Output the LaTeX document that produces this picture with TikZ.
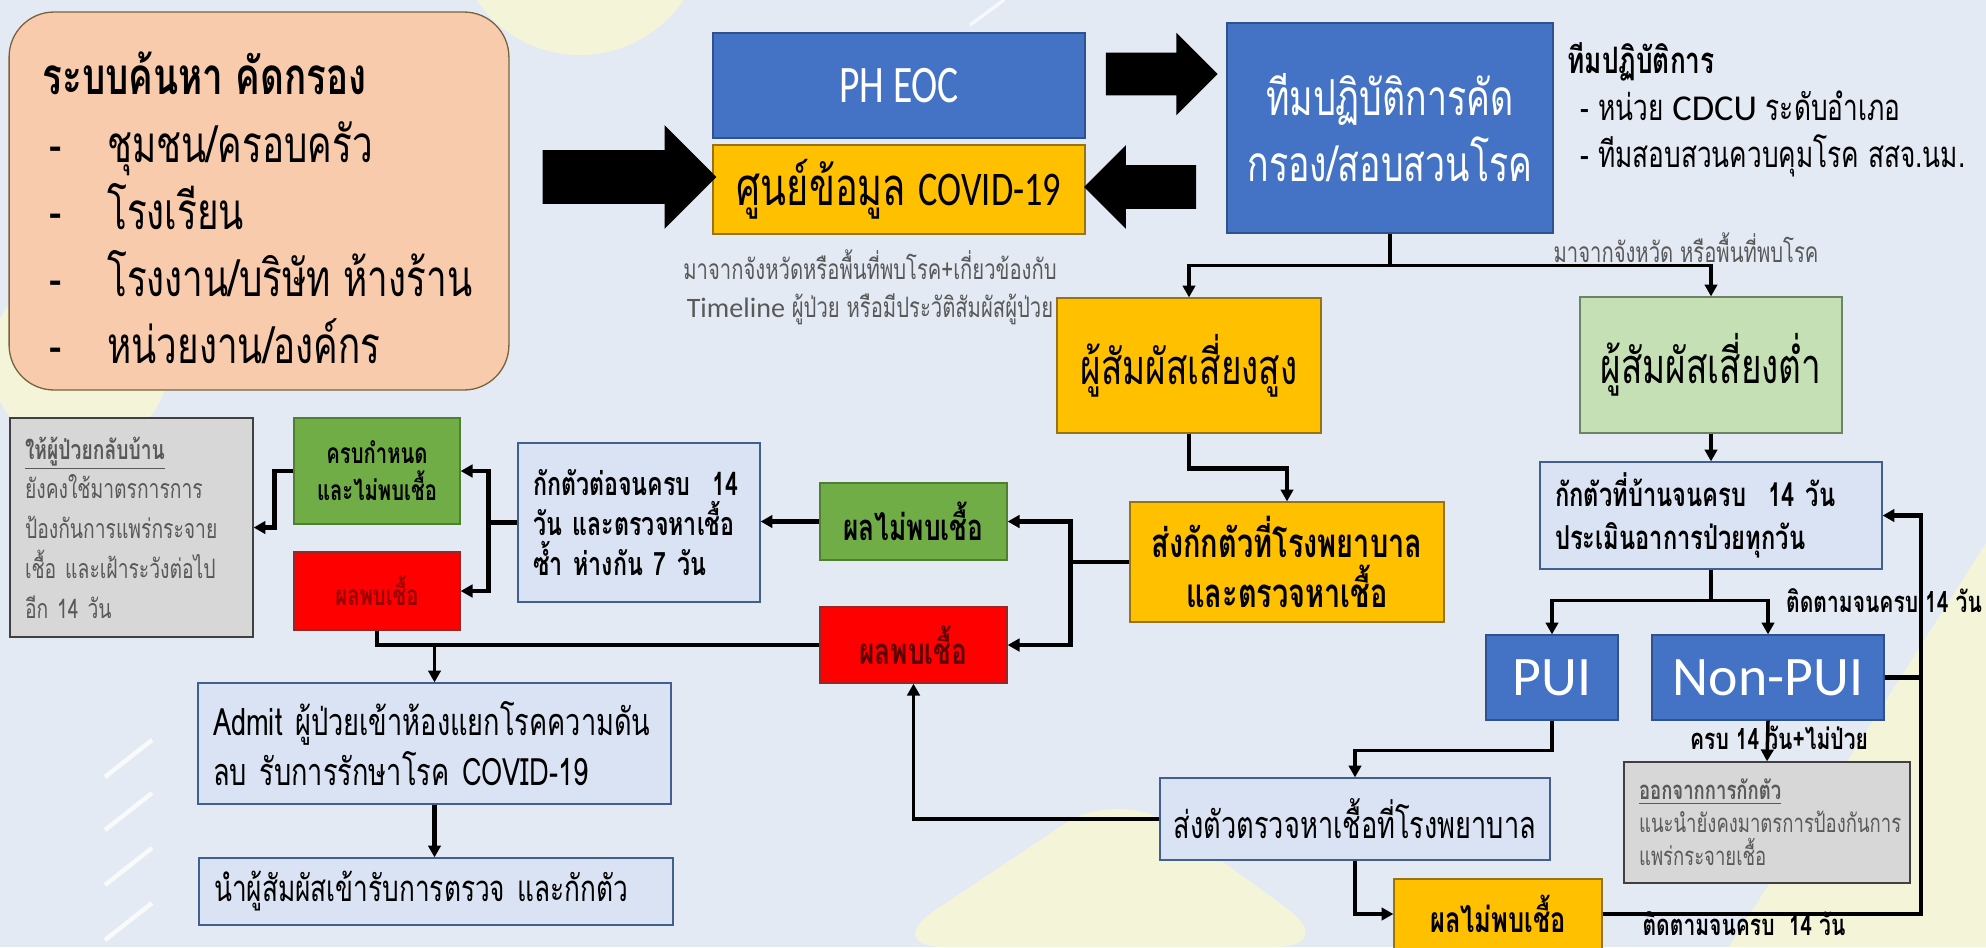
\documentclass[tikz,border=0pt]{standalone}
\usepackage{fontspec}
\setmainfont{Loma}[Script=Thai,FakeStretch=0.72]
\newfontfamily\latn{Carlito}
\newfontfamily\latnc{Carlito}[FakeStretch=0.75]
\usepackage{tikz}
\usetikzlibrary{arrows.meta,positioning,shapes.arrows,calc}
\definecolor{CVbg}{RGB}{228,234,244}
\definecolor{CVbgY}{RGB}{243,244,216}
\definecolor{CVpeach}{RGB}{248,203,173}
\definecolor{CVpeachD}{RGB}{120,100,60}
\definecolor{CVblue}{RGB}{68,114,196}
\definecolor{CVblueD}{RGB}{47,82,143}
\definecolor{CVgold}{RGB}{255,192,0}
\definecolor{CVgoldD}{RGB}{150,115,20}
\definecolor{CVgreen}{RGB}{112,173,71}
\definecolor{CVgreenD}{RGB}{80,126,50}
\definecolor{CVlgreen}{RGB}{197,224,180}
\definecolor{CVlgreenD}{RGB}{110,130,100}
\definecolor{CVred}{RGB}{255,0,0}
\definecolor{CVredD}{RGB}{150,40,40}
\definecolor{CVredT}{RGB}{90,0,0}
\definecolor{CVredT2}{RGB}{150,0,0}
\definecolor{CVpale}{RGB}{218,227,243}
\definecolor{CVpaleD}{RGB}{65,95,145}
\definecolor{CVgray}{RGB}{215,215,215}
\definecolor{CVtext}{RGB}{89,89,89}
\newcommand{\setfs}[2]{\fontsize{#1}{#2}\selectfont}
\tikzset{
  box/.style={draw,line width=0.6pt,inner sep=0pt,align=center},
  bluebox/.style={fill=CVblue,draw=CVblueD,text=white},
  goldbox/.style={fill=CVgold,draw=CVgoldD,text=black},
  greenbox/.style={fill=CVgreen,draw=CVgreenD,text=black},
  redbox/.style={fill=CVred,draw=CVredD},
  palebox/.style={fill=CVpale,draw=CVpaleD,text=black},
  graybox/.style={fill=CVgray,draw=black!75},
  link/.style={line width=1.6pt,-{Triangle[length=1.9mm,width=2mm]}},
  linkb/.style={line width=2.2pt,-{Triangle[length=1.9mm,width=2mm]}},
  wire/.style={line width=1.6pt},
  wireb/.style={line width=2.2pt},
  blk/.style={single arrow,fill=black,inner xsep=0pt,single arrow tip angle=90},
  capnote/.style={text=CVtext,align=center,inner sep=0pt,font=\setfs{12.8}{17.2}},
  lbl/.style={inner sep=0pt,font=\bfseries\setfs{13.3}{15}}
}
\begin{document}
\begin{tikzpicture}[x=0.016cm,y=-0.016cm]
  \fill[CVbg] (0,0) rectangle (1986,947);
  \useasboundingbox (0,0) rectangle (1986,947);
  \fill[CVbgY] (580,-70) circle (125);
  \fill[CVbgY] (80,360) circle (90);
  \fill[CVbgY,rounded corners=30pt] (880,947) -- (1120,787) -- (1340,947) -- cycle;
  \fill[CVbgY] (1986,543) -- (1986,947) -- (1729,947) -- cycle;
  \foreach \yy in {740,793,848,903}
    \draw[white,opacity=0.8,line width=2pt] (105,\yy+37) -- (152,\yy);
  \draw[white,opacity=0.7,line width=1.5pt] (970,25) -- (1004,0);

  \node[box,fill=CVpeach,draw=CVpeachD,rounded corners=0.72cm,minimum width=8cm,minimum height=6.05cm] (srch) at (259,201) {};
  \node[anchor=west,align=left,inner sep=0pt,font=\setfs{23.3}{30.6}] (srchT) at (42,208) {\textbf{ระบบค้นหา คัดกรอง}\\\hspace*{0.11cm}\makebox[0.93cm][l]{-}ชุมชน/ครอบครัว\\\hspace*{0.11cm}\makebox[0.93cm][l]{-}โรงเรียน\\\hspace*{0.11cm}\makebox[0.93cm][l]{-}โรงงาน/บริษัท ห้างร้าน\\\hspace*{0.11cm}\makebox[0.93cm][l]{-}หน่วยงาน/องค์กร};

  \node[box,bluebox,minimum width=5.952cm,minimum height=1.68cm,font=\latnc\setfs{24}{28}] (eoc) at (899,85.5) {PH EOC};
  \node[box,goldbox,minimum width=5.952cm,minimum height=1.424cm,font=\setfs{24}{28}] (info) at (899,189.5) {ศูนย์ข้อมูล {\latnc\setfs{22}{28}COVID-19}};
  \node[box,bluebox,minimum width=5.216cm,minimum height=3.36cm,font=\setfs{22.6}{30}] (team) at (1390,128) {ทีมปฏิบัติการคัด\\กรอง/สอบสวนโรค};
  \node[blk,inner ysep=0.424cm,minimum height=2.784cm,minimum width=1.648cm,single arrow head extend=0.4cm] (arrSrch) at (616,177) {};
  \node[blk,inner ysep=0.336cm,minimum height=1.792cm,minimum width=1.312cm,single arrow head extend=0.32cm] (arrTeam) at (1151,74) {};
  \node[blk,inner ysep=0.344cm,minimum height=1.792cm,minimum width=1.328cm,single arrow head extend=0.32cm,shape border rotate=180] (arrInfo) at (1151,187) {};
  \node[anchor=west,align=left,inner sep=0pt,font=\setfs{16.6}{21.3}] (teamNote) at (1567,110) {\textbf{ทีมปฏิบัติการ}\\\hspace*{0.21cm}- หน่วย {\latn CDCU} ระดับอำเภอ\\\hspace*{0.21cm}- ทีมสอบสวนควบคุมโรค สสจ.นม.};
  \node[capnote] (infoCap) at (870,287) {มาจากจังหวัดหรือพื้นที่พบโรค+เกี่ยวข้องกับ\\{\latn Timeline} ผู้ป่วย หรือมีประวัติสัมผัสผู้ป่วย};

  \node[box,goldbox,minimum width=4.224cm,minimum height=2.16cm,font=\setfs{22.2}{26}] (hi) at (1189,365.5) {ผู้สัมผัสเสี่ยงสูง};
  \node[box,fill=CVlgreen,draw=CVlgreenD,minimum width=4.192cm,minimum height=2.176cm,font=\setfs{22.2}{26}] (lo) at (1711,365) {ผู้สัมผัสเสี่ยงต่ำ};
  \node[capnote] (loCap) at (1686,248) {มาจากจังหวัด หรือพื้นที่พบโรค};
  \draw[wire] (team.south) -- ++(0,32) coordinate (tJ);
  \draw[link] (tJ) -| (hi.north);
  \draw[link] (tJ) -| (lo.north);

  \node[box,goldbox,minimum width=5.024cm,minimum height=1.92cm,font=\bfseries\setfs{18.3}{22.7}] (hosp) at (1287,562) {ส่งกักตัวที่โรงพยาบาล\\และตรวจหาเชื้อ};
  \draw[linkb] (hi.south) -- ++(0,35) -| (hosp.north);
  \node[box,greenbox,minimum width=2.992cm,minimum height=1.232cm,font=\bfseries\setfs{16.6}{19}] (neg1) at (913.5,521.5) {ผลไม่พบเชื้อ};
  \node[box,redbox,text=CVredT,minimum width=2.992cm,minimum height=1.216cm,font=\bfseries\setfs{16.6}{19}] (pos1) at (913.5,645) {ผลพบเชื้อ};
  \draw[wireb] (hosp.west) -- ++(-59,0) coordinate (hJ);
  \draw[linkb] (hJ) |- (neg1.east);
  \draw[linkb] (hJ) |- (pos1.east);

  \node[box,palebox,text width=3.392cm,inner xsep=0.24cm,minimum height=2.544cm,align=left,font=\bfseries\setfs{14.7}{18.1}] (q14) at (639,522.5) {กักตัวต่อจนครบ\ \ 14\\วัน และตรวจหาเชื้อ\\ซ้ำ ห่างกัน 7 วัน};
  \draw[linkb] (neg1.west) -- (neg1.west -| q14.east);
  \node[box,greenbox,minimum width=2.656cm,minimum height=1.696cm,font=\bfseries\setfs{12.8}{16.8}] (done) at (377,471) {ครบกำหนด\\และไม่พบเชื้อ};
  \node[box,redbox,text=CVredT2,minimum width=2.656cm,minimum height=1.248cm,font=\bfseries\setfs{12.8}{15}] (pos2) at (377,591) {ผลพบเชื้อ};
  \draw[wireb] (q14.west) -- ++(-29,0) coordinate (qJ);
  \draw[linkb] (qJ) |- (done.east);
  \draw[linkb] (qJ) |- (pos2.east);
  \node[box,graybox,text=CVtext,text width=3.408cm,inner xsep=0.24cm,minimum height=3.504cm,align=left,font=\setfs{12.2}{18.1}] (home) at (131.5,527.5) {\underline{\textbf{ให้ผู้ป่วยกลับบ้าน}}\\ยังคงใช้มาตรการการ\\ป้องกันการแพร่กระจาย\\เชื้อ และเฝ้าระวังต่อไป\\อีก 14 วัน};
  \draw[linkb] (done.west) -- ++(-19,0) |- (home.east);

  \node[box,palebox,text width=7.088cm,inner xsep=0.24cm,minimum height=1.936cm,align=left,font=\setfs{17.2}{23.1}] (admit) at (434.5,743.5) {Admit ผู้ป่วยเข้าห้องแยกโรคความดัน\\ลบ รับการรักษาโรค COVID-19};
  \node[box,palebox,text width=7.104cm,inner xsep=0.24cm,minimum height=1.072cm,align=left,font=\setfs{16.6}{20}] (trace) at (436,891.5) {นำผู้สัมผัสเข้ารับการตรวจ และกักตัว};
  \draw[wireb] (pos2.south) |- (pos1.west);
  \draw[link] (admit.north |- pos1.west) -- (admit.north);
  \draw[linkb] (admit.south) -- (admit.south |- trace.north);

  \node[box,palebox,text width=4.992cm,inner xsep=0.24cm,minimum height=1.712cm,align=left,font=\bfseries\setfs{15}{19.5}] (homeq) at (1711,515.5) {กักตัวที่บ้านจนครบ\ \ 14 วัน\\ประเมินอาการป่วยทุกวัน};
  \draw[link] (lo.south) -- (homeq.north);
  \node[box,bluebox,minimum width=2.112cm,minimum height=1.36cm,font=\latn\setfs{25.4}{30}] (pui) at (1552,677.5) {PUI};
  \node[box,bluebox,minimum width=3.712cm,minimum height=1.36cm,font=\latn\setfs{25.4}{30}] (npui) at (1768,677.5) {Non-PUI};
  \draw[wire] (homeq.south) -- ++(0,31) coordinate (pJ);
  \draw[link] (pJ) -| (pui.north);
  \draw[link] (pJ) -| (npui.north);
  \node[lbl] (fu1) at (1884,601) {ติดตามจนครบ 14 วัน};

  \node[box,graybox,text=CVtext,text width=4.096cm,inner xsep=0.24cm,minimum height=1.936cm,align=left,font=\setfs{11.7}{15}] (out) at (1767,822.5) {\underline{\textbf{ออกจากการกักตัว}}\\แนะนำยังคงมาตรการป้องกันการ\\แพร่กระจายเชื้อ};
  \draw[link] (npui.south) -- (out.north);
  \node[lbl] (fu0) at (1779,738) {ครบ 14 วัน+ไม่ป่วย};

  \node[box,palebox,minimum width=6.24cm,minimum height=1.312cm,font=\setfs{17.2}{19}] (lab) at (1355,819) {ส่งตัวตรวจหาเชื้อที่โรงพยาบาล};
  \draw[link] (pui.south) -- ++(0,30) -| (lab.north);
  \draw[link] (lab.west) -| (pos1.south);
  \node[box,goldbox,minimum width=3.328cm,minimum height=1.12cm,font=\bfseries\setfs{16.1}{18}] (neg2) at (1498,914) {ผลไม่พบเชื้อ};
  \draw[link] (lab.south) |- (neg2.west);
  \coordinate (rt) at (1921,600);
  \draw[wireb] (npui.east) -- (npui.east -| rt);
  \draw[linkb] (neg2.east) -| (rt |- homeq.east) -- (homeq.east);
  \node[lbl] (fu2) at (1744,924) {ติดตามจนครบ\ \ 14 วัน};
\end{tikzpicture}
\end{document}
